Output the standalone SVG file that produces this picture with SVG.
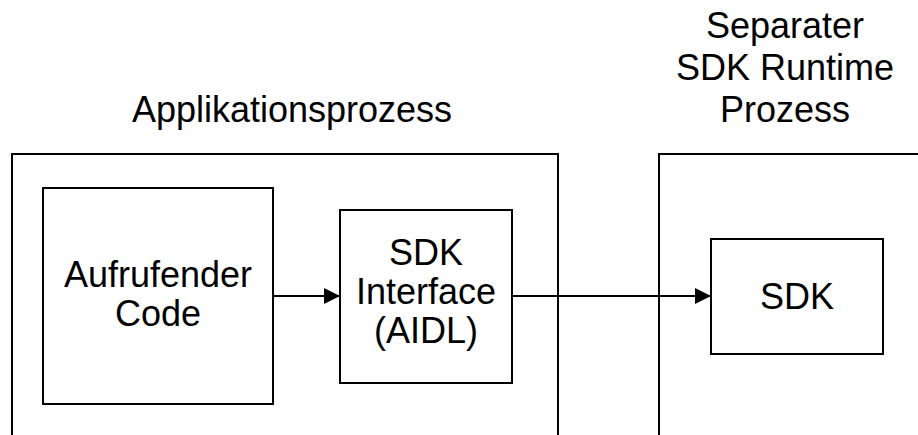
<svg xmlns="http://www.w3.org/2000/svg" width="918" height="435" viewBox="0 0 918 435">
<style>
.box{fill:none;stroke:#000;stroke-width:2}
.t{font-family:"Liberation Sans",Arial,sans-serif;font-size:36px;fill:#000;text-anchor:middle}
.c{stroke:#000;stroke-width:2;fill:none}
</style>
<defs>
<marker id="ah" markerWidth="16" markerHeight="16" refX="16" refY="8" orient="auto" markerUnits="userSpaceOnUse">
<path d="M0,0 L16,8 L0,16 Z" fill="#000"/>
</marker>
</defs>
<rect width="918" height="435" fill="#fff"/>
<g id="app-process">
<path class="box" d="M12,440 V154 H558 V440"/>
<text class="t" x="292" y="122">Applikationsprozess</text>
</g>
<g id="sdk-runtime-process">
<path class="box" d="M659,440 V154 H930"/>
<text class="t" x="785" y="38">Separater</text>
<text class="t" x="785" y="80">SDK Runtime</text>
<text class="t" x="785" y="122">Prozess</text>
</g>
<g id="calling-code">
<rect class="box" x="43" y="188" width="230" height="216"/>
<text class="t" x="158" y="287">Aufrufender</text>
<text class="t" x="158" y="326">Code</text>
</g>
<g id="sdk-interface">
<rect class="box" x="340" y="210" width="172" height="173"/>
<text class="t" x="426" y="265">SDK</text>
<text class="t" x="426" y="304">Interface</text>
<text class="t" x="426" y="343">(AIDL)</text>
</g>
<g id="sdk">
<rect class="box" x="711" y="239" width="172" height="115"/>
<text class="t" x="797" y="309">SDK</text>
</g>
<g id="connectors">
<line class="c" x1="273" y1="296" x2="340" y2="296" marker-end="url(#ah)"/>
<line class="c" x1="512" y1="296" x2="711" y2="296" marker-end="url(#ah)"/>
</g>
</svg>
